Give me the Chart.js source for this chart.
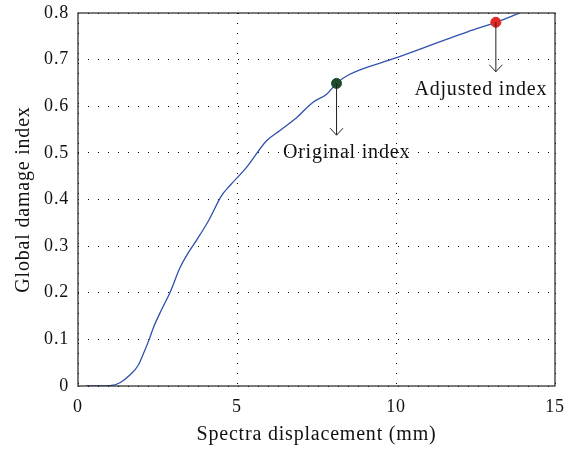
<!DOCTYPE html>
<html>
<head>
<meta charset="utf-8">
<script src="https://cdn.jsdelivr.net/npm/chart.js@4/dist/chart.umd.min.js"></script>
<style>
  html, body { margin: 0; padding: 0; background: #fff; }
  #wrap { width: 575px; height: 451px; }
</style>
</head>
<body>
<div id="wrap"><canvas id="damageChart"></canvas></div>
<script>
// DATA
const dispX = [0.25, 1.0, 1.32, 1.64, 1.90, 2.05, 2.24, 2.37, 2.63, 2.89, 3.21, 3.47, 3.73, 4.10, 4.52, 4.78, 5.30, 5.93, 6.35, 6.88, 7.40, 7.82, 8.13, 8.5, 9.97, 12.27, 13.14, 13.9];
const damageY = [0, 0.001, 0.007, 0.024, 0.045, 0.068, 0.10, 0.125, 0.164, 0.20, 0.254, 0.286, 0.313, 0.354, 0.409, 0.43, 0.469, 0.526, 0.548, 0.576, 0.609, 0.626, 0.649, 0.667, 0.703, 0.76, 0.78, 0.80];
const xTicks = [0, 5, 10, 15];
const yTicks = [0, 0.1, 0.2, 0.3, 0.4, 0.5, 0.6, 0.7, 0.8];

const markerNames = ['Original index', 'Adjusted index'];
const markerX = [8.13, 13.14];
const markerY = [0.649, 0.78];
const arrowEndY = [0.538, 0.674];
const markerColors = ['#1f4a2c', '#e02828'];

const FONT = '"Liberation Serif", "DejaVu Serif", serif';

// wider letter spacing, closer to the original serif face
const spacing = {
    id: 'spacing',
    beforeDraw(chart) { chart.ctx.letterSpacing = '0.8px'; }
};

// frame + arrows + labels
const annotate = {
    id: 'annotate',
    afterDatasetsDraw(chart) {
        const { ctx, chartArea: a, scales: { x, y } } = chart;
        ctx.save();
        ctx.strokeStyle = '#222';
        ctx.lineWidth = 1.2;
        ctx.strokeRect(a.left, a.top, a.right - a.left, a.bottom - a.top);

        ctx.lineWidth = 1;
        ctx.fillStyle = '#111';
        ctx.font = '20px ' + FONT;
        ctx.textAlign = 'center';
        ctx.textBaseline = 'middle';
        markerNames.forEach((name, i) => {
            const px = x.getPixelForValue(markerX[i]);
            const y0 = y.getPixelForValue(markerY[i]);
            const y1 = y.getPixelForValue(arrowEndY[i]);
            ctx.beginPath();
            ctx.moveTo(px, y0);
            ctx.lineTo(px, y1);
            ctx.moveTo(px - 6.5, y1 - 7);
            ctx.lineTo(px, y1);
            ctx.lineTo(px + 6.5, y1 - 7);
            ctx.stroke();
            const tx = i === 0 ? px + 10 : px - 15;
            ctx.fillText(name, tx, y1 + 18);
        });
        ctx.restore();
    }
};

const ctx = document.getElementById('damageChart').getContext('2d');
const damageChart = new Chart(ctx, {
    type: 'scatter',
    data: {
        datasets: [{
            data: dispX.map((v, i) => ({ x: v, y: damageY[i] })),
            showLine: true,
            borderColor: '#3050b0',
            borderWidth: 1.3,
            pointRadius: 0,
            cubicInterpolationMode: 'monotone',
            order: 2
        }, {
            data: markerX.map((v, i) => ({ x: v, y: markerY[i] })),
            showLine: false,
            pointRadius: 5,
            pointBackgroundColor: markerColors,
            pointBorderColor: markerColors,
            order: 1
        }]
    },
    options: {
        responsive: true,
        maintainAspectRatio: false,
        animation: false,
        layout: { autoPadding: false, padding: { left: 0, top: 13, right: 20, bottom: 0 } },
        scales: {
            x: {
                type: 'linear', min: 0, max: 15,
                afterBuildTicks: s => { s.ticks = xTicks.map(v => ({ value: v })); },
                afterFit: s => { s.height = 65; s.paddingLeft = 0; s.paddingRight = 0; },
                ticks: { color: '#111', font: { family: FONT, size: 18 }, padding: 10 },
                grid: { color: '#000', lineWidth: 1, drawTicks: false },
                border: { display: false, dash: [1, 9] },
                title: { display: true, text: 'Spectra displacement (mm)', color: '#111', font: { family: FONT, size: 20 }, padding: { top: 0, bottom: 4 } }
            },
            y: {
                type: 'linear', min: 0, max: 0.8,
                afterBuildTicks: s => { s.ticks = yTicks.map(v => ({ value: v })); },
                afterFit: s => { s.width = 78; s.paddingTop = 0; s.paddingBottom = 0; },
                ticks: { color: '#111', font: { family: FONT, size: 18 }, padding: 9, callback: v => v === 0 ? '0' : v.toFixed(1) },
                grid: { color: '#000', lineWidth: 1, drawTicks: false },
                border: { display: false, dash: [1, 9] },
                title: { display: true, text: 'Global damage index', color: '#111', font: { family: FONT, size: 20 }, padding: { top: 12, bottom: 0 } }
            }
        },
        plugins: { legend: { display: false }, tooltip: { enabled: false } }
    },
    plugins: [spacing, annotate]
});
</script>
</body>
</html>
